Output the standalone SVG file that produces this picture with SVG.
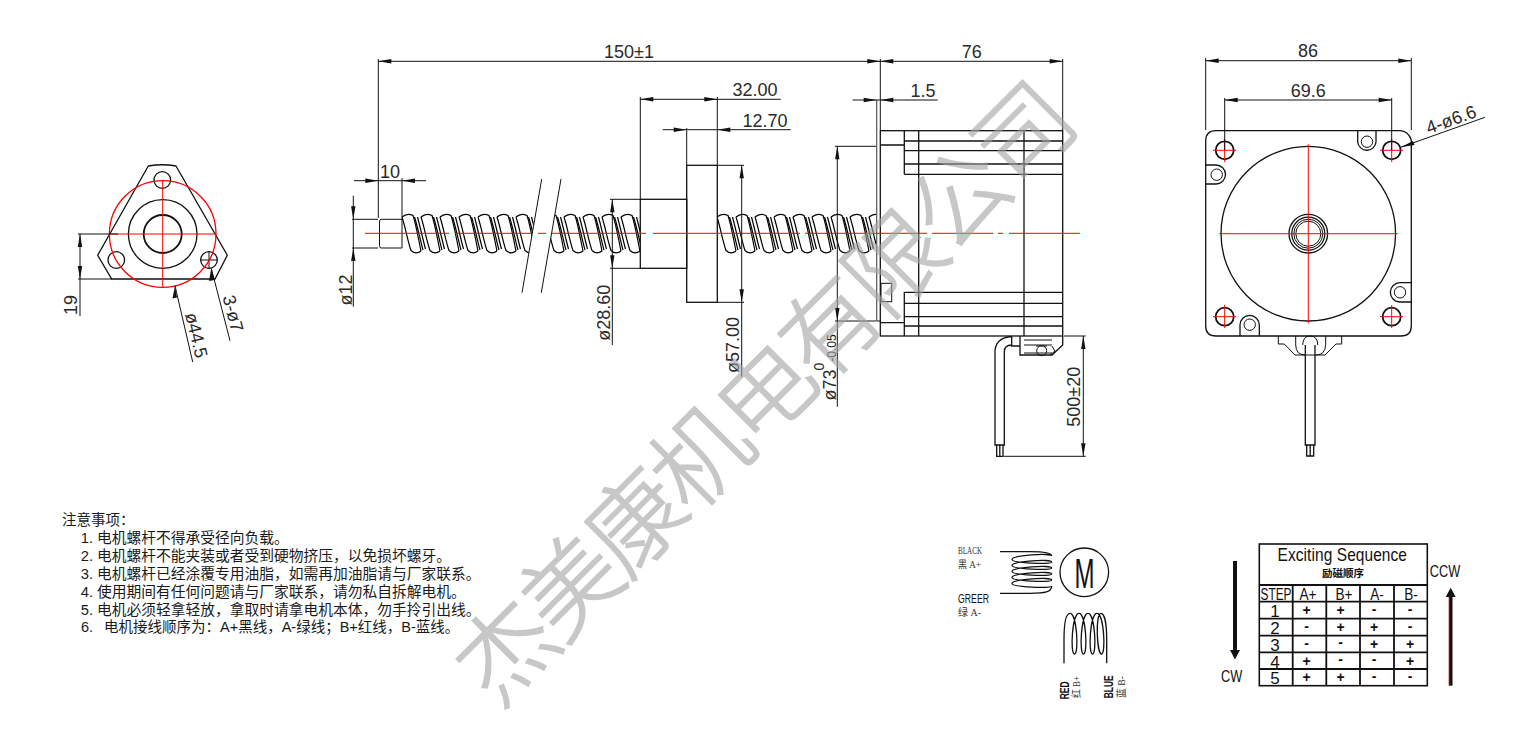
<svg xmlns="http://www.w3.org/2000/svg" width="1526" height="729" viewBox="0 0 1526 729">
<style>
text{font-family:"Liberation Sans","Noto Sans CJK SC",sans-serif;fill:#2a2a2a}
.d{font-size:18px;text-anchor:middle}
.l,.c,.t{fill:none;stroke:#111;stroke-width:1}
.t{stroke-width:1.3}
.g{fill:none;stroke:#555;stroke-width:1.2}
.r{fill:none;stroke:#f00;stroke-width:1}
.h{fill:none;stroke:#111;stroke-width:1.8}
.n{font-size:14.75px;fill:#1a1a1a}
.k{font-size:14px;text-anchor:middle;font-weight:700;fill:#111}
.q{font-size:17px;text-anchor:middle;fill:#111}
.s{font-family:"Liberation Serif","Noto Sans CJK SC",serif;font-size:10px;fill:#333}
.wm{font-family:"Noto Sans CJK SC",sans-serif;font-size:96px;font-weight:300;letter-spacing:-4.4px;text-anchor:middle;fill:#a3a3a3;stroke:#a3a3a3;stroke-width:1.6;opacity:.6}
.tr{fill:none;stroke:#000;stroke-width:1.2}
</style>
<defs>
<polygon id="ar" points="0,0 -13,-2.2 -13,2.2" fill="#111"/>
<polygon id="al" points="0,0 13,-2.2 13,2.2" fill="#111"/>
<polygon id="au" points="0,0 -2.2,13 2.2,13" fill="#111"/>
<polygon id="ad" points="0,0 -2.2,-13 2.2,-13" fill="#111"/>
<g id="th" class="tr">
<path d="M0,3Q5,-1.5 11,1.5C14,10 17,28 19,37"/>
<path d="M0,3C3,12 6,28 9,36.5Q14,41 19,37"/>
<path d="M12.5,3C15.5,12 18.5,27 21,36"/>
<path d="M15.5,3C18,12 21,26 23.5,35"/>
</g>
<clipPath id="thc"><polygon points="402,210 536,210 528,258 402,258"/><polygon points="555.5,210 640,210 640,258 547.5,258"/><polygon points="717.3,210 876.5,210 876.5,258 717.3,258"/></clipPath>
</defs>

<g id="end-view">
<path class="t" d="M148.3,166Q162.5,163.5 176,166L227.3,255.3L215,279H111.7L97.7,255.3Z"/>
<circle class="t" cx="162.7" cy="234" r="34.3"/>
<circle class="h" cx="162.7" cy="234" r="19"/>
<circle class="t" cx="162.3" cy="180" r="8.3"/>
<circle class="t" cx="116.3" cy="260" r="8.3"/>
<circle class="t" cx="209" cy="260" r="8.3"/>
<path class="l" d="M200,260H218M209,251V269"/>
<circle cx="162.7" cy="234" r="53.3" fill="none" stroke="#f00" stroke-width="1.3"/>
<path class="r" d="M109.3,234H216M162.7,181V287"/>
</g>

<g id="screw-view">
<g clip-path="url(#thc)">
<g id="thread">
<use href="#th" x="402" y="214"/><use href="#th" x="421" y="214"/><use href="#th" x="440" y="214"/><use href="#th" x="459" y="214"/><use href="#th" x="478" y="214"/><use href="#th" x="497" y="214"/><use href="#th" x="516" y="214"/>
<use href="#th" x="545" y="214"/><use href="#th" x="564" y="214"/><use href="#th" x="583" y="214"/><use href="#th" x="602" y="214"/><use href="#th" x="621" y="214"/>
<use href="#th" x="717" y="214"/><use href="#th" x="736" y="214"/><use href="#th" x="755" y="214"/><use href="#th" x="774" y="214"/><use href="#th" x="793" y="214"/><use href="#th" x="812" y="214"/><use href="#th" x="831" y="214"/><use href="#th" x="850" y="214"/><use href="#th" x="869" y="214"/>
</g>
</g>
<path class="l" d="M402,219.3H381Q379.5,219.3 379.5,222V245.5Q379.5,248 381,248H402V219.3"/>
<path class="l" d="M541.7,179L522,292.7M561,179L541.3,292.7"/>
<rect class="t" x="640.3" y="199.3" width="46.4" height="69"/>
<rect class="t" x="686.7" y="165.3" width="30.6" height="137"/>
</g>

<g id="motor-view">
<rect class="t" x="880.3" y="130.7" width="182.4" height="205.3"/>
<path class="g" d="M876.7,100V146.3M876.7,146.3V321"/>
<path class="l" d="M876.7,321H880.3"/>
<path class="t" d="M880.3,145H904.3M904.3,130.7V174.3M904.3,141H1062.7M904.3,150.7H1062.7M904.3,164H1062.7M904.3,174.3H1062.7"/>
<path class="t" d="M918.7,130.7V336M1024,130.7V336"/>
<path class="t" d="M904.3,336V292.3H1062.7M904.3,303.3H1062.7M904.3,316.7H1062.7M904.3,326H1062.7M880.3,322.7H904.3"/>
<rect class="l" x="881" y="283.3" width="10.7" height="18.4"/>
<path class="t" d="M1011.7,336.5C1001,337 995,343 995,352V445H1004.3V352C1004.3,346 1008,345 1011.7,345M1011.7,336V346H1020M1020,336V355H1052L1062.7,345V336"/>
<path class="l" d="M1024,345H1052M1024,340H1052M1024,353H1052"/>
<path class="l" d="M1052,346L1055,351L1050,355"/>
<circle class="l" cx="1041.7" cy="350.7" r="5"/>
<path class="l" d="M1036,346H1047"/>
<path class="t" d="M996.7,445V456.3H1003V445M999.8,445V456.3"/>
</g>

<g id="front-view">
<path class="t" d="M1216,130.7H1400Q1408,131 1411.3,140V326Q1411.3,336 1401,336H1216Q1205.7,336 1205.7,326V141Q1205.7,130.7 1216,130.7Z"/>
<circle class="t" cx="1308.3" cy="233.7" r="87.3"/>
<circle class="t" cx="1308.3" cy="233.7" r="19.3"/>
<circle class="t" cx="1308.3" cy="233.7" r="16.5"/>
<circle class="l" cx="1308.3" cy="233.7" r="14.5"/>
<circle class="l" cx="1308.3" cy="233.7" r="12.5"/>
<circle class="h" cx="1224.7" cy="150.3" r="9"/>
<circle class="h" cx="1391.7" cy="150.3" r="9"/>
<circle class="h" cx="1224.7" cy="316.7" r="9"/>
<circle class="h" cx="1391.7" cy="316.7" r="9"/>
<path class="t" d="M1357.7,130.7V142A9.2,9.2 0 0 0 1376,142V130.7"/>
<circle class="l" cx="1367" cy="141.7" r="5.7"/>
<path class="t" d="M1205.7,165H1216A9.5,9.5 0 0 1 1216,184H1205.7"/>
<circle class="l" cx="1216.7" cy="174.7" r="5.7"/>
<path class="t" d="M1411.3,282.7H1400A9.6,9.6 0 0 0 1400,302H1411.3"/>
<circle class="l" cx="1400" cy="292.3" r="5.7"/>
<path class="t" d="M1240,336V325A9.6,9.6 0 0 1 1259.3,325V336"/>
<circle class="l" cx="1249.7" cy="324.7" r="5.7"/>
<path class="l" d="M1278.3,336V344H1284.3L1295,355H1325L1336,344H1341.7V336"/>
<path class="l" d="M1295.7,336V345Q1296,355 1305,355M1325.7,336V345Q1325,355 1316,355M1302.7,345Q1303,336 1310,336Q1317.7,336 1317.7,345"/>
<path class="t" d="M1305.3,345V445H1315V345"/>
<path class="t" d="M1306.7,445V456H1313.7V445M1310.2,445V456"/>
<path class="r" stroke-width="1.2" d="M1219.3,233.7H1397.7M1308.3,144.3V323.3M1213,150.3H1236M1224.7,139V162M1380,150.3H1403M1391.7,139V162M1213,316.7H1236M1224.7,305V328M1380,316.7H1403M1391.7,305V328"/>
</g>

<g id="centerline">
<path class="r" d="M365,233.3H449M455,233.3H532M538,233.3H546M552,233.3H646M653,233.3H800M805,233.3H927M932,233.3H993M998,233.3H1003M1009,233.3H1080"/>
</g>

<g id="connectors">
<path class="l" d="M78,234H118M78,279H112M80,234V316"/>
<use href="#au" x="80" y="234"/><use href="#ad" x="80" y="279"/>
<path class="l" d="M175,285.7L192.7,362M211.3,268.3L230,340.7"/>
<polygon points="175,285.7 172.5,298.5 177,297.5" fill="#111"/>
<polygon points="211.3,268.3 209,281 214.5,280" fill="#111"/>

<path class="l" d="M378.3,59V218M378.3,61.3H1062.7M880.3,59V130M402,178V219"/>
<use href="#al" x="378.3" y="61.3"/><use href="#ar" x="880.3" y="61.3"/>
<path class="l" d="M354,180.7H426"/>
<use href="#ar" x="378.3" y="180.7"/><use href="#al" x="402" y="180.7"/>
<path class="l" d="M353.3,195.7V306.7M352,219.3H378M352,248H378"/>
<use href="#ad" x="353.3" y="219.3"/><use href="#au" x="353.3" y="248"/>
<path class="l" d="M640.3,97V199M717.3,97V165M640.3,99.3H780.7"/>
<use href="#al" x="640.3" y="99.3"/><use href="#ar" x="717.3" y="99.3"/>
<path class="l" d="M662.7,129.7H790.7M686.7,128V165"/>
<use href="#ar" x="686.7" y="129.7"/><use href="#al" x="717.3" y="129.7"/>
<path class="l" d="M612.3,199.3V345M610,199.3H640M610,268.3H640"/>
<use href="#au" x="612.3" y="199.3"/><use href="#ad" x="612.3" y="268.3"/>
<path class="l" d="M741.7,165.3V376.7M717,165.3H744M717,302.3H744"/>
<use href="#au" x="741.7" y="165.3"/><use href="#ad" x="741.7" y="302.3"/>
<path class="l" d="M837.3,146.3V406.7M835,146.3H876M835,321H876"/>
<use href="#au" x="837.3" y="146.3"/><use href="#ad" x="837.3" y="321"/>
<path class="l" d="M852.7,100H937.7"/>
<use href="#ar" x="876.7" y="100"/><use href="#al" x="880.3" y="100"/>
<path class="l" d="M1062.7,59V130"/>
<use href="#ar" x="1062.7" y="61.3"/><use href="#al" x="880.3" y="61.3"/>
<path class="l" d="M1083.3,336V456.3M1064,336H1085.7M1004,456.3H1085.7"/>
<use href="#au" x="1083.3" y="336"/><use href="#ad" x="1083.3" y="456.3"/>

<path class="l" d="M1205.7,58V130M1411.3,58V130M1205.7,60.7H1411.3"/>
<use href="#al" x="1205.7" y="60.7"/><use href="#ar" x="1411.3" y="60.7"/>
<path class="l" d="M1224.7,98V150M1391.7,98V150M1224.7,100H1391.7"/>
<use href="#al" x="1224.7" y="100"/><use href="#ar" x="1391.7" y="100"/>
<path class="l" d="M1400.7,147.3L1485,117.3"/>
<polygon points="1400.7,147.3 1413,141 1414.5,145" fill="#111"/>
</g>

<g id="dimension-labels">
<text class="d" x="629" y="58">150±1</text>
<text class="d" x="390" y="177.5">10</text>
<text class="d" x="755" y="95.7">32.00</text>
<text class="d" x="765" y="126.7">12.70</text>
<text class="d" x="923" y="96.7">1.5</text>
<text class="d" x="971.7" y="57.7">76</text>
<text class="d" x="1308" y="56.7">86</text>
<text class="d" x="1308.3" y="96.7">69.6</text>
<text class="d" transform="translate(70,305) rotate(-90)" y="6.5">19</text>
<text class="d" transform="translate(196.7,335) rotate(76.5)" y="6.5">ø44.5</text>
<text class="d" transform="translate(233.3,313.3) rotate(75.5)" y="6.5">3-ø7</text>
<text class="d" transform="translate(345,290) rotate(-90)" y="6.5">ø12</text>
<text class="d" transform="translate(603.3,312.7) rotate(-90)" y="6.5">ø28.60</text>
<text class="d" transform="translate(732.7,345) rotate(-90)" y="6.5">ø57.00</text>
<text class="d" transform="translate(829.3,385) rotate(-90)" y="6.5">ø73</text>
<text class="d" style="font-size:14px" transform="translate(819,366.7) rotate(-90)" y="5">0</text>
<text class="d" style="font-size:12px;fill:#111" transform="translate(831.7,348) rotate(-90)" y="4">-0.05</text>
<text class="d" transform="translate(1073.3,396.7) rotate(-90)" y="6.5">500±20</text>
<text class="d" transform="translate(1451,119.3) rotate(-20)" y="6.5">4-ø6.6</text>
</g>

<g id="notes">
<text class="n" style="font-size:14.5px" x="62" y="525">注意事项：</text>
<text class="n" x="80.7" y="542.5">1. 电机螺杆不得承受径向负载。</text>
<text class="n" x="80.7" y="560.5">2. 电机螺杆不能夹装或者受到硬物挤压，以免损坏螺牙。</text>
<text class="n" x="80.7" y="578.5">3. 电机螺杆已经涂覆专用油脂，如需再加油脂请与厂家联系。</text>
<text class="n" x="80.7" y="596.5">4. 使用期间有任何问题请与厂家联系，请勿私自拆解电机。</text>
<text class="n" x="80.7" y="614.5">5. 电机必须轻拿轻放，拿取时请拿电机本体，勿手拎引出线。</text>
<text class="n" style="font-size:14.5px" x="81" y="632">6.<tspan x="104">电机接线顺序为：A+黑线，A-绿线；B+红线，B-蓝线。</tspan></text>
</g>

<g id="winding-a">
<path class="t" d="M1000,551.7H1030C1045,551.7 1051.7,553 1051.7,556C1051.7,552.5 1012,555.5 1012,559.5C1012,563 1051.7,565 1051.7,562C1051.7,558.5 1012,561.5 1012,565.5C1012,569 1051.7,571 1051.7,568C1051.7,564.5 1012,567.5 1012,571.5C1012,575 1051.7,577 1051.7,574C1051.7,570.5 1012,573.5 1012,577.5C1012,581 1051.7,583 1051.7,580C1051.7,576.5 1012,579.5 1012,583.5C1012,587 1051.7,589 1051.7,586C1051.7,592 1045,593.3 1030,593.3H1000"/>
<text class="s" x="958" y="553.5" textLength="24" lengthAdjust="spacingAndGlyphs">BLACK</text>
<text class="s" x="958" y="568" textLength="23" lengthAdjust="spacingAndGlyphs">黑 A+</text>
<text class="s" style="font-family:'Liberation Sans',sans-serif;font-size:12.5px;fill:#111" x="958" y="603" textLength="31" lengthAdjust="spacingAndGlyphs">GREER</text>
<text class="s" x="958" y="616" textLength="23" lengthAdjust="spacingAndGlyphs">绿 A-</text>
</g>

<g id="motor-symbol">
<circle class="t" cx="1084.3" cy="572.3" r="24.3"/>
<text x="1074.5" y="588" style="font-size:43px;fill:#111" textLength="20" lengthAdjust="spacingAndGlyphs">M</text>
</g>

<g id="winding-b">
<path class="t" d="M1064,663.3V640C1064,622 1066,613.3 1070,613.3C1077,613.3 1079,654 1074.5,654C1070,654 1072,613.3 1079,613.3C1086,613.3 1088,654 1083.5,654C1079,654 1081,613.3 1088,613.3C1095,613.3 1097,654 1092.5,654C1088,654 1090,613.3 1097,613.3C1104,613.3 1106,654 1101.5,654C1097,654 1095,613.3 1101,613.3C1104,613.3 1106.7,622 1106.7,640V663.3"/>
<text class="s" style="font-family:'Liberation Sans',sans-serif;font-size:12px;fill:#111;font-weight:700" transform="translate(1069,699.3) rotate(-90)" textLength="18" lengthAdjust="spacingAndGlyphs">RED</text>
<text class="s" transform="translate(1080,698) rotate(-90)" textLength="22" lengthAdjust="spacingAndGlyphs">红 B+</text>
<text class="s" style="font-family:'Liberation Sans',sans-serif;font-size:12px;fill:#111;font-weight:700" transform="translate(1112.5,698.3) rotate(-90)" textLength="23" lengthAdjust="spacingAndGlyphs">BLUE</text>
<text class="s" transform="translate(1125,698) rotate(-90)" textLength="22" lengthAdjust="spacingAndGlyphs">蓝 B-</text>
</g>

<g id="sequence-table">
<rect x="1259.3" y="544" width="168" height="141.7" fill="none" stroke="#111" stroke-width="1.6"/>
<path class="h" stroke-width="1.4" d="M1259.3,585H1427.3M1259.3,601.7H1427.3M1259.3,618.7H1427.3M1259.3,635.7H1427.3M1259.3,652.3H1427.3M1259.3,669H1427.3M1292.7,585V685.7M1326.3,585V685.7M1360,585V685.7M1394,585V685.7"/>
<text transform="translate(1342.3,561) scale(.86,1)" text-anchor="middle" style="font-size:18px;fill:#111;letter-spacing:.1px">Exciting Sequence</text>
<text x="1343" y="577" text-anchor="middle" style="font-size:10.5px;font-weight:700;fill:#111">励磁顺序</text>
<text class="q" transform="translate(1276,600) scale(.7,1)">STEP</text>
<text class="q" transform="translate(1308,600) scale(.8,1)">A+</text>
<text class="q" transform="translate(1344,600) scale(.8,1)">B+</text>
<text class="q" transform="translate(1377,600) scale(.8,1)">A-</text>
<text class="q" transform="translate(1411,600) scale(.8,1)">B-</text>
<text class="q" x="1275" y="617">1</text><text class="k" x="1306.7" y="615">+</text><text class="k" x="1340.7" y="615">+</text><text class="k" x="1374" y="614">-</text><text class="k" x="1410" y="614">-</text>
<text class="q" x="1275" y="634">2</text><text class="k" x="1306.7" y="631">-</text><text class="k" x="1340.7" y="632">+</text><text class="k" x="1374" y="632">+</text><text class="k" x="1410" y="631">-</text>
<text class="q" x="1275" y="651">3</text><text class="k" x="1306.7" y="648">-</text><text class="k" x="1340.7" y="647">-</text><text class="k" x="1374" y="649">+</text><text class="k" x="1410" y="649">+</text>
<text class="q" x="1275" y="668">4</text><text class="k" x="1306.7" y="666">+</text><text class="k" x="1340.7" y="664">-</text><text class="k" x="1374" y="664">-</text><text class="k" x="1410" y="666">+</text>
<text class="q" x="1275" y="684">5</text><text class="k" x="1306.7" y="682">+</text><text class="k" x="1340.7" y="682">+</text><text class="k" x="1374" y="681">-</text><text class="k" x="1410" y="681">-</text>
</g>

<g id="direction-arrows">
<rect x="1233" y="561" width="4" height="90" fill="#111"/>
<polygon points="1235,659.5 1230,650 1240,650" fill="#111"/>
<text class="q" transform="translate(1231.7,682.3) scale(.75,1)">CW</text>
<rect x="1448.7" y="596" width="1.2" height="89.7" fill="#b00"/>
<rect x="1449.5" y="596" width="3" height="89.7" fill="#111"/>
<polygon points="1450.7,587.7 1445.7,597 1455.7,597" fill="#111"/>
<text class="q" transform="translate(1445,576.7) scale(.75,1)">CCW</text>
</g>

<g id="watermark">
<text class="wm" transform="translate(765,395) rotate(-45)" y="33">杰美康机电有限公司</text>
</g>
</svg>
